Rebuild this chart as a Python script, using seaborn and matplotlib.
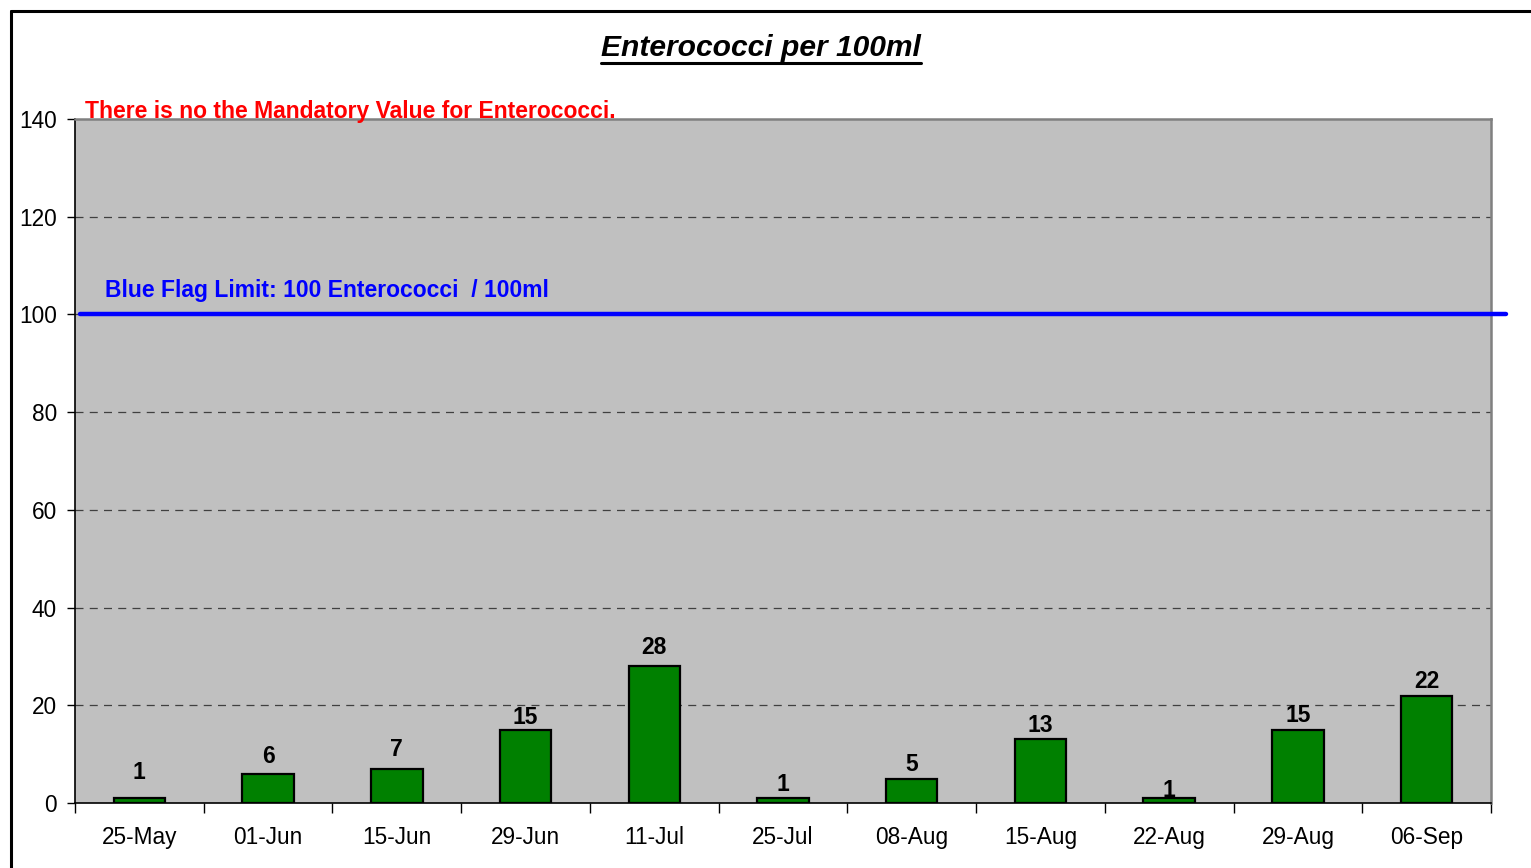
import matplotlib
matplotlib.use("Agg")
import matplotlib.pyplot as plt
from matplotlib.lines import Line2D
import seaborn as sns
import pandas as pd

# data
dates = ["25-May", "01-Jun", "15-Jun", "29-Jun", "11-Jul", "25-Jul",
         "08-Aug", "15-Aug", "22-Aug", "29-Aug", "06-Sep"]
counts = [1, 6, 7, 15, 28, 1, 5, 13, 1, 15, 22]
blue_flag_limit = 100
y_ticks = [0, 20, 40, 60, 80, 100, 120, 140]

# label placement above each bar (pixels, as in the original sheet)
label_gap_px = [26, 17, 19, 12, 19, 14, 14, 14, 8, 14, 14]

df = pd.DataFrame({"date": dates, "count": counts})

sns.set_theme(style="white")
plt.rcParams["font.family"] = ["Liberation Sans", "DejaVu Sans"]
plt.rcParams["text.color"] = "black"

fig = plt.figure(figsize=(15.31, 8.68), dpi=100)
ax = fig.add_axes([75 / 1531, 1 - 803 / 868, (1491 - 75) / 1531, (803 - 119) / 868])
ax.set_facecolor("#C0C0C0")

sns.barplot(data=df, x="date", y="count", color="#008000", saturation=1,
            width=0.4, edgecolor="black", linewidth=1.6, ax=ax, zorder=3)

ax.set_xlim(-0.5, len(dates) - 0.5)
ax.set_ylim(0, 140)
ax.set_yticks(y_ticks)
ax.set_xlabel("")
ax.set_ylabel("")

# dashed grid
for v in y_ticks[1:-1]:
    ax.axhline(v, color="#404040", lw=0.9, ls=(0, (6.4, 5)), zorder=1)

# value labels
for i, v in enumerate(counts):
    ax.annotate(str(v), (i, v), xytext=(0, label_gap_px[i] * 0.72), textcoords="offset points",
                ha="center", va="center", fontsize=16.5, fontweight="bold", color="black", zorder=5)

# blue flag line
ax.plot([0.0035, 1.0106], [blue_flag_limit, blue_flag_limit], color="#0000FF", lw=3.2,
        transform=ax.get_yaxis_transform(), clip_on=False, zorder=4)
ax.text(0.021, 103.6, "Blue Flag Limit: 100 Enterococci  / 100ml", transform=ax.get_yaxis_transform(),
        color="#0000FF", fontsize=16.5, fontweight="bold", va="baseline", ha="left")

ax.text(0.007, 1.0015, "There is no the Mandatory Value for Enterococci.", transform=ax.transAxes,
        color="#FF0000", fontsize=16.5, fontweight="bold", va="baseline", ha="left", zorder=6)

# spines & ticks
for s in ["top", "right"]:
    ax.spines[s].set_color("#808080")
    ax.spines[s].set_linewidth(1.8)
for s in ["left", "bottom"]:
    ax.spines[s].set_color("black")
    ax.spines[s].set_linewidth(1.2)
ax.tick_params(axis="y", which="both", left=True, length=6, width=1, labelsize=16.3, pad=7,
               colors="black")
ax.tick_params(axis="x", bottom=False, labelsize=16.3, pad=10.5, colors="black")
ax.set_xticks(range(len(dates)), minor=False)
ax.set_xticks([i - 0.5 for i in range(len(dates) + 1)], minor=True)
ax.tick_params(axis="x", which="minor", bottom=True, length=7, width=1, color="black")

# title with underline
title = fig.text(0.497, 1 - 48.5 / 868, "Enterococci per 100ml", ha="center", va="center",
                 fontsize=21.6, fontweight="bold", fontstyle="italic", color="black")
fig.canvas.draw()
bb = title.get_window_extent().transformed(fig.transFigure.inverted())
uy = 1 - 63 / 868
fig.add_artist(Line2D([bb.x0, bb.x1], [uy, uy], color="black", lw=2.2))

# frame around chart
fig.add_artist(Line2D([10.5 / 1531, 10.5 / 1531], [0, 1 - 10.5 / 868], color="black", lw=2.2))
fig.add_artist(Line2D([10.5 / 1531, 1], [1 - 10.5 / 868, 1 - 10.5 / 868], color="black", lw=2.2))

fig.savefig("out.png", dpi=100)
